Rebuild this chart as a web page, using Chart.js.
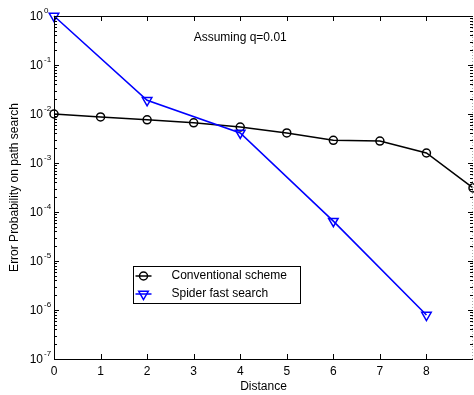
<!DOCTYPE html>
<html>
<head>
<meta charset="utf-8">
<script src="https://cdn.jsdelivr.net/npm/chart.js@4.4.0/dist/chart.umd.min.js"></script>
<style>
html, body { margin: 0; padding: 0; background: #fff; }
</style>
</head>
<body>
<canvas id="myChart" width="474" height="395"></canvas>
<script>
const distance = [0, 1, 2, 3, 4, 5, 6, 7, 8, 9];
const conventional = [1e-2, 8.7e-3, 7.6e-3, 6.6e-3, 5.4e-3, 4.1e-3, 2.9e-3, 2.8e-3, 1.6e-3, 3.1e-4];
const spiderDistance = [0, 2, 4, 6, 8];
const spider = [1, 1.9e-2, 4.1e-3, 6.5e-5, 7.9e-7];
const xTicks = [0, 1, 2, 3, 4, 5, 6, 7, 8];
const yExponents = [0, -1, -2, -3, -4, -5, -6, -7];

const font = '"Liberation Sans", Arial, sans-serif';

function marker(ctx, style, cx, cy, color) {
    ctx.strokeStyle = color;
    ctx.lineWidth = 1.5;
    ctx.beginPath();
    if (style == 'circle') {
        ctx.arc(cx, cy, 4, 0, Math.PI * 2);
    } else {
        let r = 5.5;
        ctx.moveTo(cx, cy + r);
        ctx.lineTo(cx - r * 0.866, cy - r / 2);
        ctx.lineTo(cx + r * 0.866, cy - r / 2);
        ctx.closePath();
    }
    ctx.stroke();
}

// оси, подписи, легенда
const frame = {
    id: 'frame',
    afterDraw(chart) {
        const ctx = chart.ctx;
        const a = chart.chartArea;
        const x = chart.scales.x;
        const y = chart.scales.y;
        ctx.save();

        // рамка
        ctx.strokeStyle = '#000';
        ctx.lineWidth = 1;
        ctx.beginPath();
        ctx.moveTo(Math.round(a.left) + 0.5, Math.round(a.top) + 0.5);
        ctx.lineTo(Math.round(a.left) + 0.5, Math.round(a.bottom) + 0.5);
        ctx.lineTo(Math.round(a.right), Math.round(a.bottom) + 0.5);
        ctx.moveTo(Math.round(a.left) + 0.5, Math.round(a.top) + 0.5);
        ctx.lineTo(Math.round(a.right), Math.round(a.top) + 0.5);
        ctx.stroke();
        ctx.strokeStyle = '#aaa';
        ctx.setLineDash([1, 2]);
        ctx.beginPath();
        ctx.moveTo(Math.round(a.right) - 0.5, a.top);
        ctx.lineTo(Math.round(a.right) - 0.5, a.bottom);
        ctx.stroke();
        ctx.setLineDash([]);

        // засечки
        ctx.strokeStyle = '#000';
        ctx.beginPath();
        for (let v of xTicks) {
            let px = Math.round(x.getPixelForValue(v)) + 0.5;
            ctx.moveTo(px, a.bottom);
            ctx.lineTo(px, a.bottom - 5);
            ctx.moveTo(px, a.top);
            ctx.lineTo(px, a.top + 5);
        }
        for (let e of yExponents) {
            for (let m = 1; m <= 9; m++) {
                let val = m * Math.pow(10, e);
                if (val > 1) break;
                let py = Math.round(y.getPixelForValue(val)) + 0.5;
                let len = m == 1 ? 5 : 3;
                ctx.moveTo(a.left, py);
                ctx.lineTo(a.left + len, py);
                ctx.moveTo(a.right, py);
                ctx.lineTo(a.right - len, py);
            }
        }
        ctx.stroke();

        // подписи осей
        ctx.fillStyle = '#000';
        ctx.font = '12px ' + font;
        ctx.textAlign = 'center';
        ctx.textBaseline = 'middle';
        for (let v of xTicks) {
            ctx.fillText(String(v), x.getPixelForValue(v), a.bottom + 13);
        }
        for (let e of yExponents) {
            let py = y.getPixelForValue(Math.pow(10, e));
            ctx.font = '12px ' + font;
            ctx.textAlign = 'right';
            ctx.textBaseline = 'middle';
            ctx.fillText('10', a.left - 11, py + 1);
            ctx.font = '8px ' + font;
            ctx.textAlign = 'left';
            ctx.textBaseline = 'alphabetic';
            ctx.fillText(String(e), a.left - 10, py - 3);
        }

        ctx.font = '12px ' + font;
        ctx.textAlign = 'center';
        ctx.textBaseline = 'middle';
        ctx.fillText('Distance', (a.left + a.right) / 2, a.bottom + 28);
        ctx.save();
        ctx.translate(15, (a.top + a.bottom) / 2);
        ctx.rotate(-Math.PI / 2);
        ctx.fillText('Error Probability on path search', 0, 0);
        ctx.restore();

        ctx.textAlign = 'left';
        ctx.fillText('Assuming q=0.01', x.getPixelForValue(3), y.getPixelForValue(Math.pow(10, -0.45)));

        // легенда
        let lx = Math.round(x.getPixelForValue(1.7)) + 0.5;
        let ly = Math.round(y.getPixelForValue(Math.pow(10, -5.1))) + 0.5;
        ctx.fillStyle = '#fff';
        ctx.fillRect(lx, ly, 167, 37);
        ctx.strokeStyle = '#000';
        ctx.lineWidth = 1;
        ctx.strokeRect(lx, ly, 167, 37);
        let rows = [
            ['Conventional scheme', '#000', 'circle'],
            ['Spider fast search', '#0000ff', 'triangle']
        ];
        rows.forEach((r, i) => {
            let ry = ly + 9.5 + i * 18;
            ctx.strokeStyle = r[1];
            ctx.lineWidth = 1.5;
            ctx.beginPath();
            ctx.moveTo(lx + 2, ry);
            ctx.lineTo(lx + 18, ry);
            ctx.stroke();
            marker(ctx, r[2], lx + 10, ry, r[1]);
            ctx.fillStyle = '#000';
            ctx.font = '12px ' + font;
            ctx.textAlign = 'left';
            ctx.textBaseline = 'middle';
            ctx.fillText(r[0], lx + 38, ry);
        });
        ctx.restore();
    }
};

const data = {
    datasets: [{
        label: 'Conventional scheme',
        data: distance.map((d, i) => ({ x: d, y: conventional[i] })),
        borderColor: '#000',
        borderWidth: 1.5,
        pointStyle: 'circle',
        pointRadius: 4,
        pointBorderWidth: 1.5,
        pointBorderColor: '#000',
        pointBackgroundColor: 'rgba(0,0,0,0)',
        clip: false,
        order: 1
    }, {
        label: 'Spider fast search',
        data: spiderDistance.map((d, i) => ({ x: d, y: spider[i] })),
        borderColor: '#0000ff',
        borderWidth: 1.6,
        pointStyle: 'triangle',
        pointRotation: 180,
        pointRadius: 5.5,
        pointBorderWidth: 1.5,
        pointBorderColor: '#0000ff',
        pointBackgroundColor: 'rgba(0,0,0,0)',
        clip: false,
        order: 0
    }]
};

const config = {
    type: 'line',
    data: data,
    options: {
        responsive: false,
        animation: false,
        layout: { autoPadding: false, padding: { top: 16, right: 1, left: 0, bottom: 0 } },
        plugins: {
            legend: { display: false },
            tooltip: { enabled: false }
        },
        scales: {
            x: {
                type: 'linear',
                min: 0,
                max: 9,
                ticks: { display: false },
                grid: { display: false },
                border: { display: false },
                afterFit: s => { s.height = 36; s.paddingLeft = 0; s.paddingRight = 0; }
            },
            y: {
                type: 'logarithmic',
                min: 1e-7,
                max: 1,
                ticks: { display: false },
                grid: { display: false },
                border: { display: false },
                afterFit: s => { s.width = 54; s.paddingTop = 0; s.paddingBottom = 0; }
            }
        }
    },
    plugins: [frame]
};

const myChart = new Chart(document.getElementById('myChart'), config);
</script>
</body>
</html>
